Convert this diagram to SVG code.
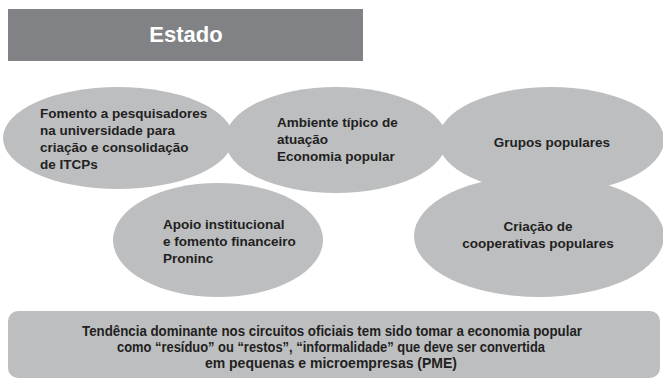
<svg xmlns="http://www.w3.org/2000/svg" width="663" height="381" viewBox="0 0 663 381">
<style>
.blob{fill:#bcbec0}
.t{font-family:"Liberation Sans",Arial,sans-serif;font-weight:bold;font-size:13.5px;fill:#231f20}
.b{font-size:14px}
.c{text-anchor:middle}
</style>
<rect x="0" y="0" width="663" height="381" fill="#ffffff"/>
<g id="estado">
<rect x="8" y="9" width="355" height="52" fill="#808285"/>
<text x="186" y="42" class="c" style="font-family:'Liberation Sans',Arial,sans-serif;font-weight:bold;font-size:22px;fill:#ffffff">Estado</text>
</g>
<g id="connectors"></g>
<g id="fomento">
<ellipse class="blob" cx="118" cy="138" rx="115" ry="51"/>
</g>
<g id="ambiente">
<ellipse class="blob" cx="336" cy="140" rx="111" ry="53"/>
</g>
<g id="grupos">
<ellipse class="blob" cx="551" cy="140" rx="113" ry="53"/>
</g>
<g id="apoio">
<ellipse class="blob" cx="218" cy="240" rx="105" ry="57"/>
</g>
<g id="criacao">
<ellipse class="blob" cx="539" cy="236" rx="125" ry="61"/>
</g>
<g id="labels">
<text class="t" x="40" y="118">Fomento a pesquisadores</text>
<text class="t" x="40" y="135">na universidade para</text>
<text class="t" x="40" y="152">criação e consolidação</text>
<text class="t" x="40" y="169">de ITCPs</text>
<text class="t" x="277" y="127">Ambiente típico de</text>
<text class="t" x="277" y="144">atuação</text>
<text class="t" x="277" y="161">Economia popular</text>
<text class="t c" x="552" y="147">Grupos populares</text>
<text class="t" x="163" y="229">Apoio institucional</text>
<text class="t" x="163" y="246">e fomento financeiro</text>
<text class="t" x="163" y="263">Proninc</text>
<text class="t c" x="538" y="231">Criação de</text>
<text class="t c" x="538" y="248">cooperativas populares</text>
</g>
<g id="tendencia">
<rect x="8" y="311" width="652" height="67" rx="10" ry="10" class="blob"/>
<text class="t b c" x="332" y="336" textLength="500" lengthAdjust="spacingAndGlyphs">Tendência dominante nos circuitos oficiais tem sido tomar a economia popular</text>
<text class="t b c" x="331" y="352" textLength="428" lengthAdjust="spacingAndGlyphs">como “resíduo” ou “restos”, “informalidade” que deve ser convertida</text>
<text class="t b c" x="331" y="368">em pequenas e microempresas (PME)</text>
</g>
</svg>
